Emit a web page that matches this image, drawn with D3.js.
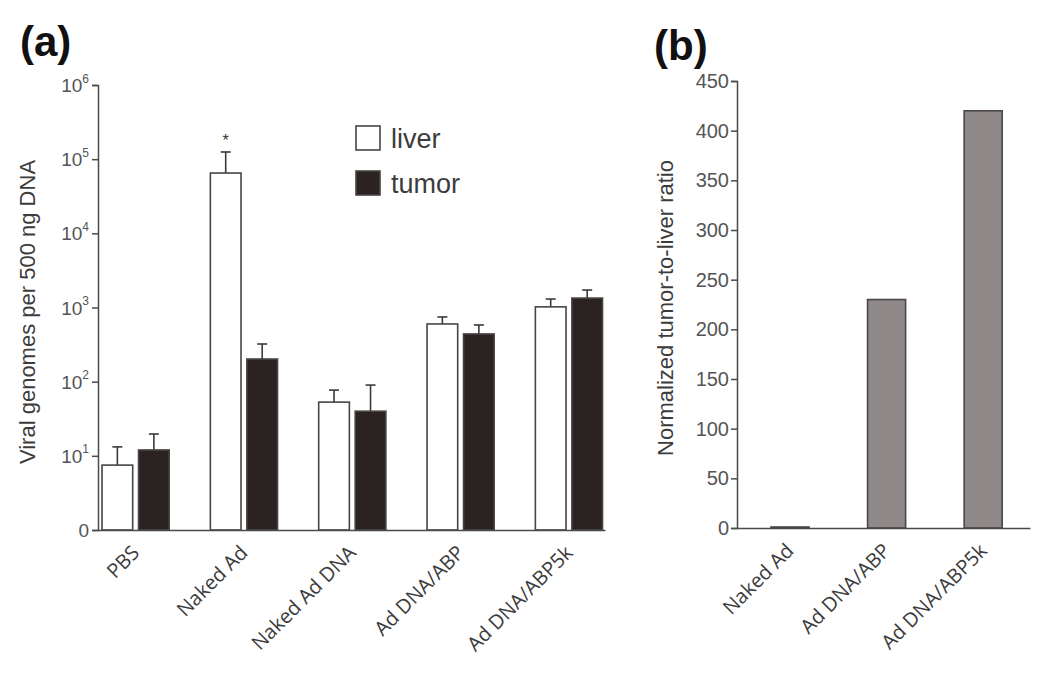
<!DOCTYPE html>
<html><head><meta charset="utf-8">
<script src="https://cdn.jsdelivr.net/npm/d3@7"></script>
<style>
html,body{margin:0;padding:0;background:#fff;}
svg{display:block;}
</style>
</head><body>
<svg id="chart" width="1050" height="680"></svg>
<script>
// ---------- data ----------
const categoriesA = ["PBS", "Naked Ad", "Naked Ad DNA", "Ad DNA/ABP", "Ad DNA/ABP5k"];
const seriesA = ["liver", "tumor"];
const liverValues = [7.5, 65000, 53, 600, 1020];
const liverErrTop = [13.2, 125000, 77, 745, 1300];
const tumorValues = [12, 202, 40, 440, 1340];
const tumorErrTop = [19.7, 322, 90, 581, 1720];
const yTicksA = [1, 10, 100, 1000, 10000, 100000, 1000000];
const yTickExpA = ["0", "1", "2", "3", "4", "5", "6"];

const categoriesB = ["Naked Ad", "Ad DNA/ABP", "Ad DNA/ABP5k"];
const ratioValues = [1, 230, 420];
const yTicksB = [0, 50, 100, 150, 200, 250, 300, 350, 400, 450];

// ---------- setup ----------
const svg = d3.select("#chart");
const axisCol = "#4a4a4a";
const textCol = "#3c3c3c";
const sans = "'Liberation Sans', Arial, sans-serif";
const labFont = "'Open Sans', sans-serif";

// ===== Panel (a) =====
const yA = d3.scaleLog().domain([1, 1e6]).range([530, 85]);
const xA = d3.scaleBand().domain(categoriesA).range([98, 605])
  .paddingInner(0.38).paddingOuter(0.03).align(0.62);
const xInner = d3.scaleBand().domain(seriesA).range([0, xA.bandwidth()]).paddingInner(0.16);

const rowsA = categoriesA.map((c, i) => ({
  cat: c,
  bars: [
    {s: "liver", v: liverValues[i], e: liverErrTop[i]},
    {s: "tumor", v: tumorValues[i], e: tumorErrTop[i]}
  ]
}));
const fillA = {liver: "#ffffff", tumor: "#2a2321"};

const gA = svg.append("g");
const groups = gA.selectAll(".grp").data(rowsA).join("g")
  .attr("transform", d => `translate(${xA(d.cat)},0)`);

// error bars (drawn behind bars)
groups.selectAll(".err").data(d => d.bars).join("g").each(function(d) {
  const g = d3.select(this);
  const cx = xInner(d.s) + xInner.bandwidth() / 2;
  g.append("line").attr("x1", cx).attr("x2", cx)
    .attr("y1", yA(d.v)).attr("y2", yA(d.e))
    .attr("stroke", "#3a3a3a").attr("stroke-width", 1.6);
  g.append("line").attr("x1", cx - 5).attr("x2", cx + 5)
    .attr("y1", yA(d.e)).attr("y2", yA(d.e))
    .attr("stroke", "#3a3a3a").attr("stroke-width", 1.6);
});

groups.selectAll("rect").data(d => d.bars).join("rect")
  .attr("x", d => xInner(d.s))
  .attr("width", xInner.bandwidth())
  .attr("y", d => yA(d.v))
  .attr("height", d => yA(1) - yA(d.v))
  .attr("fill", d => fillA[d.s])
  .attr("stroke", "#4a4444")
  .attr("stroke-width", 1.6);

// significance star on Naked Ad liver
gA.append("text")
  .attr("x", xA("Naked Ad") + xInner("liver") + xInner.bandwidth() / 2)
  .attr("y", yA(liverErrTop[1]) - 6)
  .attr("text-anchor", "middle")
  .attr("font-family", sans).attr("font-size", 16).attr("fill", "#333")
  .text("*");

// y axis (a)
const yAxisA = gA.append("g").attr("transform", "translate(98,0)")
  .call(d3.axisLeft(yA).tickValues(yTicksA).tickSize(6).tickPadding(3).tickFormat(() => ""));
yAxisA.select(".domain").attr("stroke", axisCol).attr("stroke-width", 1.5);
yAxisA.selectAll(".tick line").attr("stroke", axisCol).attr("stroke-width", 1.5);
yAxisA.selectAll(".tick text").each(function(d, i) {
  const t = d3.select(this);
  t.attr("font-family", sans).attr("font-size", 19).attr("fill", "#555").attr("dy", "0.35em");
  if (d === 1) {
    t.text("0");
  } else {
    t.text("10");
    t.append("tspan").attr("font-size", 12).attr("dy", "-0.8em").text(yTickExpA[i]);
  }
});

// x axis (a)
const xAxisA = gA.append("g").attr("transform", "translate(0,530)")
  .call(d3.axisBottom(xA).tickSize(0).tickSizeOuter(0).tickPadding(0));
xAxisA.select(".domain").attr("stroke", axisCol).attr("stroke-width", 1.5);
xAxisA.selectAll(".tick text")
  .attr("font-family", labFont).attr("font-size", 20).attr("fill", textCol)
  .attr("text-anchor", "end").attr("dy", 0).attr("y", 0)
  .attr("transform", "translate(5,24) rotate(-45)");

// y title (a)
gA.append("text")
  .attr("transform", "translate(35,312) rotate(-90)")
  .attr("text-anchor", "middle")
  .attr("font-family", sans).attr("font-size", 22).attr("fill", textCol)
  .text("Viral genomes per 500 ng DNA");

// legend
const legend = gA.append("g").attr("transform", "translate(356,126)");
seriesA.forEach((s, i) => {
  legend.append("rect").attr("x", 0).attr("y", i * 45).attr("width", 24).attr("height", 24)
    .attr("fill", fillA[s]).attr("stroke", "#4a4444").attr("stroke-width", 1.6);
  legend.append("text").attr("x", 35).attr("y", i * 45 + 22)
    .attr("font-family", sans).attr("font-size", 27).attr("fill", textCol).text(s);
});

// panel label
svg.append("text").attr("x", 20).attr("y", 56)
  .attr("font-family", sans).attr("font-weight", "bold").attr("font-size", 42).attr("fill", "#111")
  .text("(a)");

// ===== Panel (b) =====
const yB = d3.scaleLinear().domain([0, 450]).range([528, 81]);
const xB = d3.scaleBand().domain(categoriesB).range([737, 1030])
  .paddingInner(0.606).paddingOuter(0.32).align(0.55);

const gB = svg.append("g");
gB.selectAll("rect").data(categoriesB.map((c, i) => ({c, v: ratioValues[i]}))).join("rect")
  .attr("x", d => xB(d.c))
  .attr("width", xB.bandwidth())
  .attr("y", d => yB(d.v))
  .attr("height", d => yB(0) - yB(d.v))
  .attr("fill", "#8e8888")
  .attr("stroke", "#4d4747")
  .attr("stroke-width", 1.6);

const yAxisB = gB.append("g").attr("transform", "translate(737,0)")
  .call(d3.axisLeft(yB).tickValues(yTicksB).tickSize(6).tickPadding(2));
yAxisB.select(".domain").attr("stroke", axisCol).attr("stroke-width", 1.5);
yAxisB.selectAll(".tick line").attr("stroke", axisCol).attr("stroke-width", 1.5);
yAxisB.selectAll(".tick text").attr("font-family", sans).attr("font-size", 20).attr("fill", "#555");

const xAxisB = gB.append("g").attr("transform", "translate(0,528)")
  .call(d3.axisBottom(xB).tickSize(0).tickSizeOuter(0).tickPadding(0));
xAxisB.select(".domain").attr("stroke", axisCol).attr("stroke-width", 1.5);
xAxisB.selectAll(".tick text")
  .attr("font-family", labFont).attr("font-size", 20).attr("fill", textCol)
  .attr("text-anchor", "end").attr("dy", 0).attr("y", 0)
  .attr("transform", "translate(5,24) rotate(-45)");

gB.append("text")
  .attr("transform", "translate(673,308) rotate(-90)")
  .attr("text-anchor", "middle")
  .attr("font-family", sans).attr("font-size", 22).attr("fill", textCol)
  .text("Normalized tumor-to-liver ratio");

svg.append("text").attr("x", 654).attr("y", 60)
  .attr("font-family", sans).attr("font-weight", "bold").attr("font-size", 42).attr("fill", "#111")
  .text("(b)");
</script>
</body></html>
